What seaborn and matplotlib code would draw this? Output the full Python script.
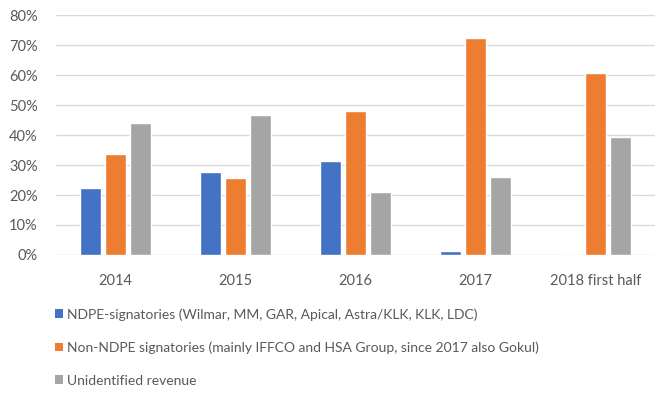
import pandas as pd
import matplotlib
matplotlib.use("Agg")
import matplotlib.pyplot as plt
import seaborn as sns
from matplotlib.ticker import PercentFormatter
from matplotlib.patches import Patch

# Data (share of revenue)
years = ['2014', '2015', '2016', '2017', '2018 first half']
series_names = ['NDPE-signatories (Wilmar, MM, GAR, Apical, Astra/KLK, KLK, LDC)',
                'Non-NDPE signatories (mainly IFFCO and HSA Group, since 2017 also Gokul)',
                'Unidentified revenue']
ndpe = [0.225, 0.276, 0.312, 0.012, 0.0]
non_ndpe = [0.337, 0.258, 0.479, 0.725, 0.607]
unidentified = [0.440, 0.467, 0.209, 0.261, 0.394]
colors = ['#4472C4', '#ED7D31', '#A5A5A5']

df = pd.DataFrame({
    'year': years * 3,
    'series': [series_names[0]] * 5 + [series_names[1]] * 5 + [series_names[2]] * 5,
    'value': ndpe + non_ndpe + unidentified,
})

sns.set_style("white")
plt.rcParams['font.family'] = ['Lato', 'DejaVu Sans']

fig = plt.figure(figsize=(6.72, 3.99), dpi=100)
ax = fig.add_axes([0.083, 0.361, 0.892, 0.601])

sns.barplot(data=df, x='year', y='value', hue='series', palette=colors,
            width=0.62, gap=0.15, ax=ax, legend=False, saturation=1)

ax.set_ylim(0, 0.8)
ax.set_yticks([i / 10 for i in range(9)])
ax.yaxis.set_major_formatter(PercentFormatter(1.0, decimals=0))
ax.grid(axis='y', color='#D9D9D9', linewidth=1)
ax.set_axisbelow(True)
for s in ax.spines.values():
    s.set_visible(False)
ax.set_xlabel('')
ax.set_ylabel('')
ax.tick_params(axis='both', length=0, labelsize=10.5, colors='#595959')
ax.tick_params(axis='y', pad=13)
ax.tick_params(axis='x', pad=14)

handles = [Patch(facecolor=c, edgecolor='none') for c in colors]
fig.legend(handles, series_names, loc='upper left', bbox_to_anchor=(0.073, 0.242),
           frameon=False, fontsize=10, labelcolor='#595959',
           handlelength=0.6, handleheight=0.6, handletextpad=0.3,
           labelspacing=1.5, borderaxespad=0)

fig.savefig('out.png', dpi=100)
